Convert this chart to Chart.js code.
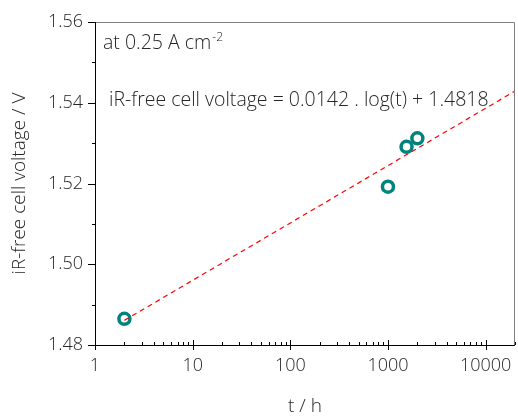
<!DOCTYPE html>
<html>
<head>
<meta charset="utf-8">
<script src="https://cdn.jsdelivr.net/npm/chart.js@4.4.0/dist/chart.umd.min.js"></script>
<style>
html, body { margin: 0; padding: 0; background: #fff; overflow: hidden; }
#wrap { width: 518px; height: 420px; }
canvas { display: block; }
</style>
</head>
<body>
<div id="wrap"><canvas id="c" width="518" height="420"></canvas></div>
<script>
// measured points
var hours = [2, 1000, 1550, 2000];
var voltage = [1.4865, 1.5192, 1.5291, 1.5312];
// fitted line ends
var fitHours = [2, 20000];
var fitVoltage = [1.4861, 1.5429];
var xTickLabels = [1, 10, 100, 1000, 10000];
var yTickLabels = [1.48, 1.50, 1.52, 1.54, 1.56];

var FONT = "'Open Sans', 'DejaVu Sans', sans-serif";
var TEXT = '#262626';

var frame = {
	id: 'frame',
	afterDraw: function (chart) {
		var ctx = chart.ctx, a = chart.chartArea;
		var xs = chart.scales.x, ys = chart.scales.y;
		ctx.save();
		// frame
		ctx.strokeStyle = '#808080';
		ctx.lineWidth = 1;
		ctx.beginPath();
		ctx.moveTo(a.left, a.top + 0.5);
		ctx.lineTo(a.right - 0.5, a.top + 0.5);
		ctx.lineTo(a.right - 0.5, a.bottom);
		ctx.stroke();
		ctx.strokeStyle = '#000';
		ctx.beginPath();
		ctx.moveTo(a.left + 0.5, a.top);
		ctx.lineTo(a.left + 0.5, a.bottom + 0.5);
		ctx.lineTo(a.right, a.bottom + 0.5);
		ctx.stroke();
		// x ticks: majors cross, minors inside
		ctx.beginPath();
		for (var d = 1; d <= 10000; d *= 10) {
			for (var m = 1; m <= 9; m++) {
				var v = d * m;
				if (v > 20000) break;
				var px = Math.round(xs.getPixelForValue(v)) + 0.5;
				if (m === 1) {
					ctx.moveTo(px, a.bottom - 5);
					ctx.lineTo(px, a.bottom + 5);
				} else {
					ctx.moveTo(px, a.bottom - 3);
					ctx.lineTo(px, a.bottom);
				}
			}
		}
		// y ticks: outside
		for (var y = 1.48; y <= 1.5601; y += 0.01) {
			var py = Math.round(ys.getPixelForValue(y)) + 0.5;
			var major = Math.round(y * 100) % 2 === 0;
			ctx.moveTo(a.left - (major ? 7 : 3), py);
			ctx.lineTo(a.left, py);
		}
		ctx.stroke();
		// x tick labels
		ctx.fillStyle = TEXT;
		ctx.font = '300 18px ' + FONT;
		ctx.textAlign = 'center';
		ctx.textBaseline = 'middle';
		xTickLabels.forEach(function (v) {
			ctx.fillText(String(v), xs.getPixelForValue(v), a.bottom + 21);
		});
		// annotations
		ctx.textBaseline = 'alphabetic';
		ctx.textAlign = 'left';
		ctx.font = '300 19.5px ' + FONT;
		var s = 'at 0.25 A cm';
		ctx.fillText(s, a.left + 8, a.top + 27);
		var w = ctx.measureText(s).width;
		ctx.font = '300 12px ' + FONT;
		ctx.fillText('-2', a.left + 8 + w + 1, a.top + 19);
		ctx.font = '300 19.5px ' + FONT;
		ctx.fillText('iR-free cell voltage = 0.0142 . log(t) + 1.4818', a.left + 14, a.top + 84);
		ctx.restore();
	}
};

new Chart(document.getElementById('c'), {
	type: 'scatter',
	data: {
		datasets: [{
			label: 'fit',
			type: 'line',
			data: fitHours.map(function (t, i) { return { x: t, y: fitVoltage[i] }; }),
			borderColor: '#ff0000',
			borderWidth: 1.2,
			borderDash: [5, 4],
			pointRadius: 0,
			fill: false,
			order: 0
		}, {
			label: 'data',
			data: hours.map(function (t, i) { return { x: t, y: voltage[i] }; }),
			pointRadius: 5.5,
			pointBorderWidth: 3.5,
			pointBorderColor: '#00837e',
			pointBackgroundColor: '#ffffff',
			order: 1
		}]
	},
	options: {
		responsive: false,
		animation: false,
		layout: { autoPadding: false, padding: { top: 22, right: 3, left: 0, bottom: 0 } },
		plugins: { legend: { display: false }, tooltip: { enabled: false } },
		scales: {
			x: {
				type: 'logarithmic',
				min: 1, max: 20000,
				afterFit: function (s) { s.height = 75; },
				grid: { display: false, drawTicks: false },
				border: { display: false },
				ticks: { display: false },
				title: {
					display: true, text: 't / h', color: TEXT,
					font: { family: FONT, size: 19, weight: 300 },
					padding: { top: 0, bottom: 2 }
				}
			},
			y: {
				min: 1.48, max: 1.56,
				afterFit: function (s) { s.width = 95; s.paddingTop = 0; s.paddingBottom = 0; },
				afterBuildTicks: function (s) {
					s.ticks = yTickLabels.map(function (v) { return { value: v }; });
				},
				grid: { display: false, drawTicks: false },
				border: { display: false },
				ticks: {
					padding: 12, color: TEXT,
					font: { family: FONT, size: 18, weight: 300 },
					callback: function (v) { return v.toFixed(2); }
				},
				title: {
					display: true, text: 'iR-free cell voltage / V', color: TEXT,
					font: { family: FONT, size: 19, weight: 300 },
					padding: { top: 8, bottom: 0 }
				}
			}
		}
	},
	plugins: [frame]
});
</script>
</body>
</html>
